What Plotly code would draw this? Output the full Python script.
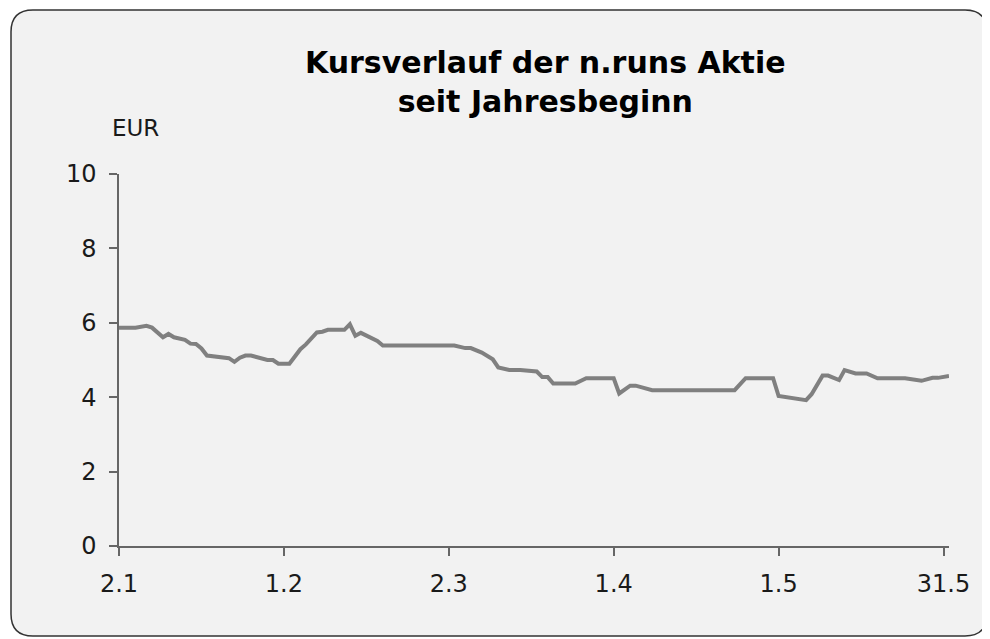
import plotly.graph_objects as go

# ---- data ----
dates = [
    "2008-01-02", "2008-01-05", "2008-01-07", "2008-01-08", "2008-01-10", "2008-01-11",
    "2008-01-12", "2008-01-14", "2008-01-15", "2008-01-16", "2008-01-17", "2008-01-18",
    "2008-01-22", "2008-01-23", "2008-01-24", "2008-01-25", "2008-01-26", "2008-01-29",
    "2008-01-30", "2008-01-31", "2008-02-02", "2008-02-04", "2008-02-05", "2008-02-07",
    "2008-02-08", "2008-02-09", "2008-02-12", "2008-02-13", "2008-02-14", "2008-02-15",
    "2008-02-18", "2008-02-19", "2008-03-03", "2008-03-05", "2008-03-06", "2008-03-08",
    "2008-03-10", "2008-03-11", "2008-03-13", "2008-03-15", "2008-03-18", "2008-03-19",
    "2008-03-20", "2008-03-21", "2008-03-25", "2008-03-27", "2008-04-01", "2008-04-02",
    "2008-04-04", "2008-04-05", "2008-04-08", "2008-04-23", "2008-04-25", "2008-04-30",
    "2008-05-01", "2008-05-06", "2008-05-07", "2008-05-09", "2008-05-10", "2008-05-12",
    "2008-05-13", "2008-05-15", "2008-05-17", "2008-05-19", "2008-05-24", "2008-05-27",
    "2008-05-29", "2008-05-30", "2008-06-01",
]
prices = [
    5.87, 5.87, 5.92, 5.87, 5.61, 5.70,
    5.61, 5.54, 5.44, 5.43, 5.31, 5.12,
    5.05, 4.95, 5.06, 5.12, 5.12, 5.00,
    5.00, 4.90, 4.90, 5.29, 5.42, 5.74,
    5.76, 5.81, 5.81, 5.96, 5.65, 5.73,
    5.51, 5.39, 5.39, 5.32, 5.32, 5.20,
    5.02, 4.80, 4.73, 4.73, 4.69, 4.54,
    4.54, 4.37, 4.37, 4.51, 4.51, 4.10,
    4.31, 4.31, 4.19, 4.19, 4.51, 4.51,
    4.03, 3.92, 4.08, 4.58, 4.58, 4.46,
    4.73, 4.64, 4.64, 4.51, 4.51, 4.44,
    4.52, 4.52, 4.57,
]
x_tick_dates = ["2008-01-02", "2008-02-01", "2008-03-02", "2008-04-01", "2008-05-01", "2008-05-31"]
x_tick_labels = ["2.1", "1.2", "2.3", "1.4", "1.5", "31.5"]
y_ticks = [0, 2, 4, 6, 8, 10]

title_text = "Kursverlauf der n.runs Aktie<br>seit Jahresbeginn"
unit_label = "EUR"

# ---- layout geometry (pixels, in figure coordinates; page body adds an 8px offset) ----
OFF = 8
W, H = 990, 639
ML = 119 - OFF
MT = 174 - OFF
MR = W - (949 - OFF)
MB = H - (546 - OFF)
PW = W - ML - MR
PH = H - MT - MB


def px(x):
    # x given in screen pixels of the reference
    return (x - OFF - ML) / PW


def py(y):
    return (H - MB - (y - OFF)) / PH


# rounded rectangle for the chart area (reference screen pixels)
L, R, T, B, RAD = 11, 987, 10, 636, 22
path = (
    f"M {px(L + RAD)},{py(T)} L {px(R - RAD)},{py(T)} "
    f"Q {px(R)},{py(T)} {px(R)},{py(T + RAD)} "
    f"L {px(R)},{py(B - RAD)} Q {px(R)},{py(B)} {px(R - RAD)},{py(B)} "
    f"L {px(L + RAD)},{py(B)} Q {px(L)},{py(B)} {px(L)},{py(B - RAD)} "
    f"L {px(L)},{py(T + RAD)} Q {px(L)},{py(T)} {px(L + RAD)},{py(T)} Z"
)

FONT = "DejaVu Sans"
TXT = "#1a1a1a"

fig = go.Figure()
fig.add_trace(go.Scatter(
    x=dates, y=prices, mode="lines",
    line=dict(color="#808080", width=4),
    hoverinfo="x+y", showlegend=False,
))

fig.update_layout(
    width=W, height=H,
    margin=dict(l=ML, r=MR, t=MT, b=MB, pad=0),
    paper_bgcolor="white",
    plot_bgcolor="rgba(0,0,0,0)",
    font=dict(family=FONT, size=24, color=TXT),
    shapes=[dict(
        type="path", path=path, xref="paper", yref="paper",
        fillcolor="#f2f2f2", line=dict(color="#333333", width=1.5),
        layer="below",
    )],
    annotations=[
        dict(text=title_text, x=px(545), y=py(82), xref="paper", yref="paper",
             xanchor="center", yanchor="middle", showarrow=False,
             font=dict(family=FONT, size=30, color="#000000", weight="bold")),
        dict(text=unit_label, x=px(110), y=py(128), xref="paper", yref="paper",
             xanchor="left", yanchor="middle", showarrow=False,
             font=dict(family=FONT, size=23, color=TXT)),
    ],
    xaxis=dict(
        type="date", range=["2008-01-02", "2008-06-01"],
        tickmode="array", tickvals=x_tick_dates, ticktext=x_tick_labels,
        ticks="outside", ticklen=8, tickwidth=1.5, tickcolor="#666666",
        showline=True, linecolor="#666666", linewidth=1.5,
        showgrid=False, zeroline=False, ticklabelstandoff=7,
        tickfont=dict(family=FONT, size=24, color=TXT),
    ),
    yaxis=dict(
        range=[0, 10], tickmode="array", tickvals=y_ticks,
        ticks="outside", ticklen=8, tickwidth=1.5, tickcolor="#666666",
        showline=True, linecolor="#666666", linewidth=1.5,
        showgrid=False, zeroline=False, ticklabelstandoff=8,
        tickfont=dict(family=FONT, size=24, color=TXT),
    ),
)

fig.write_html("out.html")
